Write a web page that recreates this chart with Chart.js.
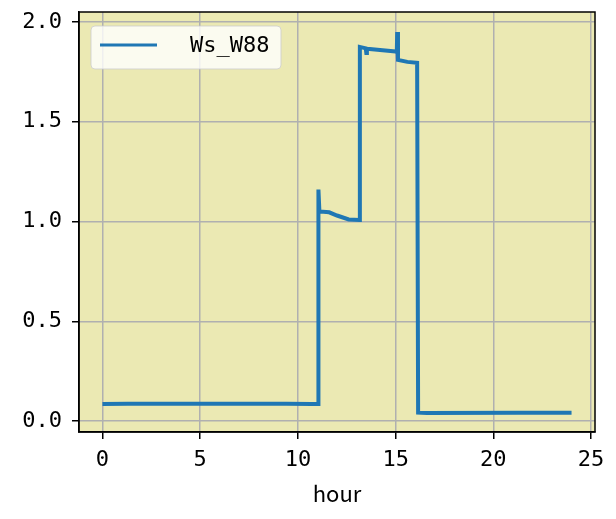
<!DOCTYPE html>
<html>
<head>
<meta charset="utf-8">
<script src="https://cdn.jsdelivr.net/npm/chart.js@4/dist/chart.umd.min.js"></script>
<style>
  html, body { margin: 0; padding: 0; background: #fff; }
</style>
</head>
<body>
<canvas id="wsChart" width="616" height="519"></canvas>
<script>
// values
const hours = [0, 1.3, 4.1, 7.9, 8.6, 9.4, 10.7, 11.05, 11.05, 11.1, 11.6, 12.0, 12.6, 13.15,
  13.17, 13.47, 13.5, 13.53, 14.2, 15.0, 15.06, 15.08, 15.12, 15.6, 16.1, 16.15, 16.6, 21.3, 24];
const windSpeed = [0.085, 0.086, 0.087, 0.087, 0.086, 0.086, 0.085, 0.085, 1.16, 1.05, 1.046, 1.03, 1.01, 1.008,
  1.875, 1.868, 1.845, 1.866, 1.86, 1.852, 1.85, 1.95, 1.81, 1.80, 1.795, 0.042, 0.04, 0.042, 0.042];
const seriesLabel = 'Ws_W88';
const xTickStep = 5;
const yTickStep = 0.5;

const tickFont = { family: 'DejaVu Sans Mono', size: 22 };

const plotBg = {
  id: 'plotBg',
  beforeDraw(chart) {
    const { ctx, chartArea: a } = chart;
    ctx.save();
    ctx.fillStyle = '#ebe9b3';
    ctx.fillRect(a.left, a.top, a.right - a.left, a.bottom - a.top);
    ctx.restore();
  },
  afterDraw(chart) {
    const { ctx, chartArea: a } = chart;
    ctx.save();
    // frame
    ctx.strokeStyle = '#000';
    ctx.lineWidth = 1.5;
    ctx.strokeRect(a.left, a.top, a.right - a.left, a.bottom - a.top);

    // legend box in upper left
    const ds = chart.data.datasets[0];
    const bx = a.left + 12, by = a.top + 14, bw = 190, bh = 43;
    ctx.fillStyle = 'rgba(255,255,255,0.8)';
    ctx.strokeStyle = 'rgba(204,204,204,0.8)';
    ctx.lineWidth = 1;
    ctx.beginPath();
    ctx.roundRect(bx, by, bw, bh, 4);
    ctx.fill();
    ctx.stroke();
    ctx.strokeStyle = ds.borderColor;
    ctx.lineWidth = 3;
    ctx.beginPath();
    ctx.moveTo(bx + 9, by + 19);
    ctx.lineTo(bx + 66, by + 19);
    ctx.stroke();
    ctx.fillStyle = '#000';
    ctx.font = tickFont.size + 'px "' + tickFont.family + '"';
    ctx.textBaseline = 'middle';
    ctx.fillText(ds.label, bx + 99, by + 20);
    ctx.restore();
  }
};

new Chart(document.getElementById('wsChart'), {
  type: 'line',
  data: {
    datasets: [{
      label: seriesLabel,
      data: hours.map((h, i) => ({ x: h, y: windSpeed[i] })),
      borderColor: '#1f77b4',
      borderWidth: 4,
      pointRadius: 0,
      tension: 0,
      fill: false
    }]
  },
  options: {
    responsive: false,
    animation: false,
    layout: { padding: { left: 0, top: 12, right: 21, bottom: 0 } },
    plugins: { legend: { display: false }, tooltip: { enabled: false } },
    scales: {
      x: {
        type: 'linear',
        min: -1.2,
        max: 25.2,
        afterFit(scale) { scale.height = 87; },
        ticks: {
          stepSize: xTickStep,
          includeBounds: false,
          color: '#000',
          font: tickFont,
          padding: 8,
          maxRotation: 0
        },
        grid: { color: '#b0b0b0', lineWidth: 1.5, tickColor: '#000', tickLength: 7 },
        border: { display: true, color: '#000', width: 1.5 },
        title: {
          display: true,
          text: 'hour',
          color: '#000',
          font: { family: 'Noto Sans CJK JP', size: 22 },
          padding: { top: 0, bottom: 12 }
        }
      },
      y: {
        min: -0.055,
        max: 2.05,
        afterFit(scale) {
          scale.width = 79;
          scale.paddingTop = 0;
          scale.paddingBottom = 0;
        },
        ticks: {
          stepSize: yTickStep,
          includeBounds: false,
          color: '#000',
          font: tickFont,
          padding: 10,
          callback: v => v.toFixed(1)
        },
        grid: { color: '#b0b0b0', lineWidth: 1.5, tickColor: '#000', tickLength: 7 },
        border: { display: true, color: '#000', width: 1.5 }
      }
    }
  },
  plugins: [plotBg]
});
</script>
</body>
</html>
